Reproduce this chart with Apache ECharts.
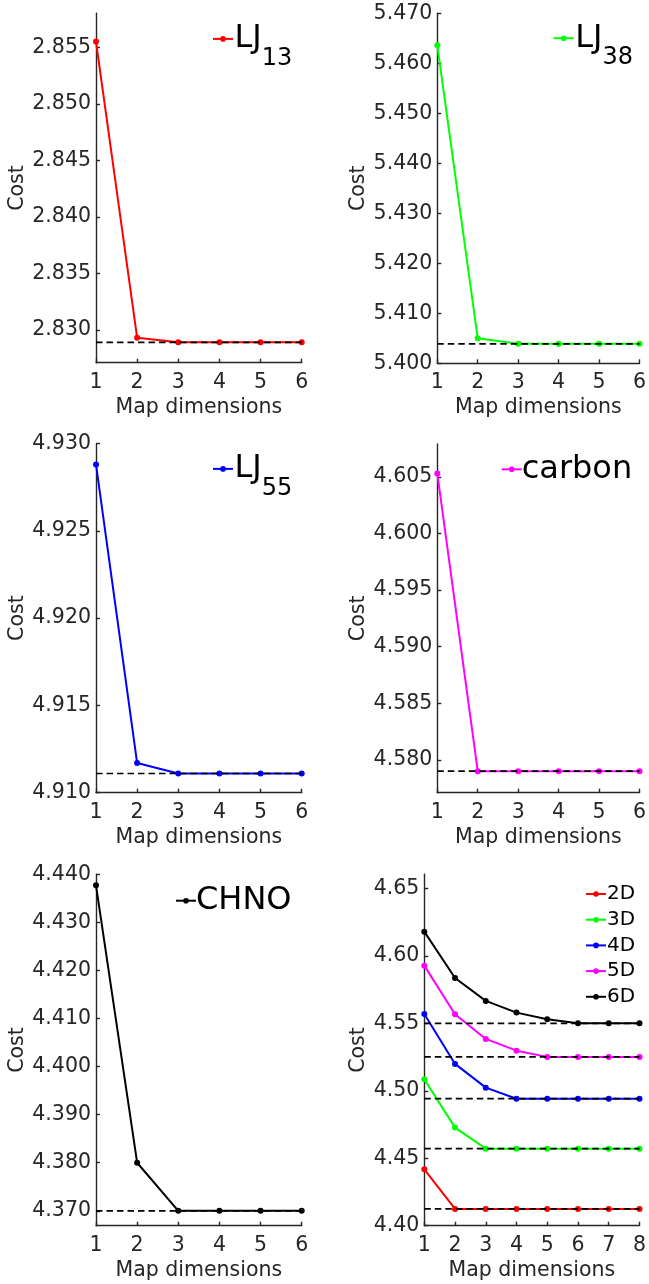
<!DOCTYPE html>
<html><head><meta charset="utf-8">
<script src="https://cdn.jsdelivr.net/npm/echarts@6/dist/echarts.min.js"></script>
<style>html,body{margin:0;padding:0;background:#fff}#c{width:649px;height:1284px}</style>
</head><body><div id="c"></div>
<script>
// ---------------- data ----------------
const dims6 = [1, 2, 3, 4, 5, 6];
const dims8 = [1, 2, 3, 4, 5, 6, 7, 8];

const costLJ13 = [2.8555, 2.8293, 2.8289, 2.8289, 2.8289, 2.8289];
const refLJ13 = 2.8289;
const costLJ38 = [5.4636, 5.4050, 5.4039, 5.4039, 5.4039, 5.4039];
const refLJ38 = 5.4039;
const costLJ55 = [4.9288, 4.9117, 4.9111, 4.9111, 4.9111, 4.9111];
const refLJ55 = 4.9111;
const costCarbon = [4.6053, 4.5790, 4.5790, 4.5790, 4.5790, 4.5790];
const refCarbon = 4.5790;
const costCHNO = [4.4377, 4.3800, 4.3700, 4.3700, 4.3700, 4.3700];
const refCHNO = 4.3700;

const cost2D = [4.4418, 4.4124, 4.4124, 4.4124, 4.4124, 4.4124, 4.4124, 4.4124];
const cost3D = [4.5085, 4.4727, 4.4571, 4.4571, 4.4571, 4.4571, 4.4571, 4.4571];
const cost4D = [4.5569, 4.5199, 4.5023, 4.4941, 4.4941, 4.4941, 4.4941, 4.4941];
const cost5D = [4.5927, 4.5567, 4.5384, 4.5297, 4.5251, 4.5251, 4.5251, 4.5251];
const cost6D = [4.6179, 4.5836, 4.5666, 4.5579, 4.5530, 4.5500, 4.5500, 4.5500];
const multiNames = ['2D', '3D', '4D', '5D', '6D'];
const multiCosts = [cost2D, cost3D, cost4D, cost5D, cost6D];
const multiRefs = [4.4124, 4.4571, 4.4941, 4.5251, 4.5500];

const yTicksLJ13 = [2.830, 2.835, 2.840, 2.845, 2.850, 2.855];
const yTicksLJ38 = [5.400, 5.410, 5.420, 5.430, 5.440, 5.450, 5.460, 5.470];
const yTicksLJ55 = [4.910, 4.915, 4.920, 4.925, 4.930];
const yTicksCarbon = [4.580, 4.585, 4.590, 4.595, 4.600, 4.605];
const yTicksCHNO = [4.370, 4.380, 4.390, 4.400, 4.410, 4.420, 4.430, 4.440];
const yTicksMulti = [4.40, 4.45, 4.50, 4.55, 4.60, 4.65];

const xAxisTitle = 'Map dimensions';
const yAxisTitle = 'Cost';

// ---------------- style / layout ----------------
const FONT = 'DejaVu Sans';
const AX = '#262626';
const FS = 20.5;
const multiColors = ['#ff0000', '#00ff00', '#0000ff', '#ff00ff', '#000000'];

const panels = [
  {name: 'LJ13', label: '{a|LJ}{b|13}', rich: true, color: '#ff0000', y: costLJ13, ref: refLJ13, ticks: yTicksLJ13, dec: 3,
   ymin: 2.8271, ymax: 2.8580, grid: {left: 96, top: 13.3, width: 205.7, height: 349.4}, nameGap: 67, lg: {left: 212, top: 22.9}},
  {name: 'LJ38', label: '{a|LJ}{b|38}', rich: true, color: '#00ff00', y: costLJ38, ref: refLJ38, ticks: yTicksLJ38, dec: 3,
   ymin: 5.400, ymax: 5.470, grid: {left: 437.3, top: 13.3, width: 205, height: 350}, nameGap: 68.6, lg: {left: 552.7, top: 22.2}},
  {name: 'LJ55', label: '{a|LJ}{b|55}', rich: true, color: '#0000ff', y: costLJ55, ref: refLJ55, ticks: yTicksLJ55, dec: 3,
   ymin: 4.910, ymax: 4.930, grid: {left: 96, top: 443.5, width: 205.7, height: 349.2}, nameGap: 67, lg: {left: 212, top: 452.9}},
  {name: 'carbon', label: 'carbon', rich: false, color: '#ff00ff', y: costCarbon, ref: refCarbon, ticks: yTicksCarbon, dec: 3,
   ymin: 4.5771, ymax: 4.6079, grid: {left: 437.3, top: 444, width: 205, height: 348.7}, nameGap: 68.6, lg: {left: 500.7, top: 449.3}},
  {name: 'CHNO', label: 'CHNO', rich: false, color: '#000000', y: costCHNO, ref: refCHNO, ticks: yTicksCHNO, dec: 3,
   ymin: 4.3669, ymax: 4.440, grid: {left: 96, top: 874.3, width: 205.7, height: 351.4}, nameGap: 67, lg: {left: 175, top: 880.7}}
];

const option = {animation: false, backgroundColor: '#fff', grid: [], xAxis: [], yAxis: [], series: [], legend: []};

function addAxes(i, grid, xTicks, ymin, ymax, yTicks, dec, nameGap) {
  option.grid.push(Object.assign({containLabel: false}, grid));
  option.xAxis.push({
    type: 'value', gridIndex: i, min: xTicks[0], max: xTicks[xTicks.length - 1], interval: 1,
    name: xAxisTitle, nameLocation: 'middle', nameGap: 34,
    nameTextStyle: {fontFamily: FONT, fontSize: FS, color: AX},
    axisLine: {show: true, lineStyle: {color: AX, width: 1.4}},
    axisTick: {show: true, inside: true, length: 4, lineStyle: {color: AX, width: 1.4}},
    axisLabel: {fontFamily: FONT, fontSize: FS, color: AX, margin: 9},
    splitLine: {show: false}
  });
  option.yAxis.push({
    type: 'value', gridIndex: i, min: ymin, max: ymax,
    name: yAxisTitle, nameLocation: 'middle', nameGap: nameGap,
    nameTextStyle: {fontFamily: FONT, fontSize: FS, color: AX},
    axisLine: {show: true, lineStyle: {color: AX, width: 1.4}},
    axisTick: {show: true, inside: true, length: 4, customValues: yTicks, lineStyle: {color: AX, width: 1.4}},
    axisLabel: {fontFamily: FONT, fontSize: FS, color: AX, margin: 5, customValues: yTicks,
      formatter: v => Number(v).toFixed(dec)},
    splitLine: {show: false}
  });
}

function addSeries(i, name, color, xs, ys) {
  option.series.push({
    type: 'line', name: name, xAxisIndex: i, yAxisIndex: i,
    data: xs.map((x, k) => [x, ys[k]]),
    symbol: 'circle', symbolSize: 6, showSymbol: true,
    lineStyle: {color: color, width: 2}, itemStyle: {color: color},
    emphasis: {disabled: true}, z: 2
  });
}
function addRef(i, xs, v) {
  option.series.push({
    type: 'line', name: 'ref' + i + '_' + v, xAxisIndex: i, yAxisIndex: i,
    data: [[xs[0], v], [xs[xs.length - 1], v]], symbol: 'none', silent: true,
    lineStyle: {color: '#000', width: 1.7, type: [6.5, 4]}, z: 3, emphasis: {disabled: true}
  });
}

panels.forEach((p, i) => {
  addAxes(i, p.grid, dims6, p.ymin, p.ymax, p.ticks, p.dec, p.nameGap);
  addSeries(i, p.name, p.color, dims6, p.y);
  addRef(i, dims6, p.ref);
  const ts = {fontFamily: FONT, color: '#000', fontSize: 32, padding: [0, 0, 0, p.rich ? -3.5 : -5]};
  if (p.rich) {
    ts.rich = {
      a: {fontFamily: FONT, fontSize: 32, lineHeight: 32, verticalAlign: 'top', color: '#000'},
      b: {fontFamily: FONT, fontSize: 24, lineHeight: 24, verticalAlign: 'top', color: '#000', padding: [23.6, 0, 0, 0]}
    };
  } else {
    ts.lineHeight = 40;
  }
  option.legend.push({
    data: [p.name], left: p.lg.left, top: p.lg.top, padding: 0, itemWidth: 20, itemHeight: 7,
    selectedMode: false, formatter: () => p.label, textStyle: ts
  });
});

// multi panel
const mi = panels.length;
addAxes(mi, {left: 424.3, top: 874.3, width: 218, height: 351.4}, dims8, 4.40, 4.6604, yTicksMulti, 2, 55.6);
multiNames.forEach((n, k) => addSeries(mi, n, multiColors[k], dims8, multiCosts[k]));
multiRefs.forEach(v => addRef(mi, dims8, v));
option.legend.push({
  data: multiNames, orient: 'vertical', left: 585, top: 884, padding: 0, itemWidth: 20, itemHeight: 7, itemGap: 5.7,
  selectedMode: false, textStyle: {fontFamily: FONT, fontSize: 20, lineHeight: 20, color: '#000', padding: [0, 0, 0, -4]}
});

const chart = echarts.init(document.getElementById('c'), null, {renderer: 'canvas'});
chart.setOption(option);
</script>
</body></html>
